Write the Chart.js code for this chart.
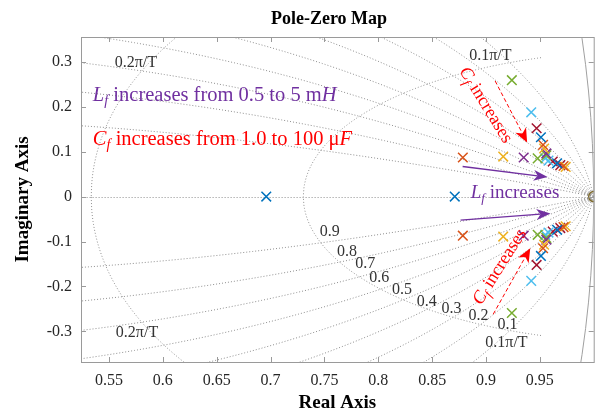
<!DOCTYPE html>
<html>
<head>
<meta charset="utf-8">
<script src="https://cdn.jsdelivr.net/npm/chart.js@4.4.1/dist/chart.umd.min.js"></script>
<style>
  html, body { margin: 0; padding: 0; background: #fff; overflow: hidden; width: 597px; height: 415px; }
  canvas { display: block; }
</style>
</head>
<body>
<canvas id="pzmap" width="602" height="415"></canvas>
<script>
// ----------------------
// Axis ticks
// ----------------------
const xTicks = [0.55, 0.6, 0.65, 0.7, 0.75, 0.8, 0.85, 0.9, 0.95];
const xTickLabels = ["0.55", "0.6", "0.65", "0.7", "0.75", "0.8", "0.85", "0.9", "0.95"];
const yTicks = [-0.3, -0.2, -0.1, 0, 0.1, 0.2, 0.3];
const yTickLabels = ["-0.3", "-0.2", "-0.1", "0", "0.1", "0.2", "0.3"];

// ----------------------
// Poles (real part, imaginary part >= 0; conjugates are mirrored)
// ----------------------
const bluePolesRe = [0.696, 0.871, 0.951, 0.966];
const bluePolesIm = [0, 0, 0.132, 0.074];
const orangePolesRe = [0.8785, 0.953, 0.972];
const orangePolesIm = [0.087, 0.115, 0.068];
const yellowPolesRe = [0.916, 0.954, 0.974];
const yellowPolesIm = [0.089, 0.107, 0.066];
const purplePolesRe = [0.935, 0.956];
const purplePolesIm = [0.087, 0.096];
const greenPolesRe = [0.924, 0.948, 0.956];
const greenPolesIm = [0.259, 0.085, 0.092];
const lightbluePolesRe = [0.942, 0.955, 0.958];
const lightbluePolesIm = [0.1875, 0.085, 0.080];
const darkredPolesRe = [0.947, 0.962, 0.969];
const darkredPolesIm = [0.152, 0.078, 0.070];

// zero at z = 1
const zeroRe = [1.0];
const zeroIm = [0];

// ----------------------
// z-plane grid
// ----------------------
const zetaLines = [0.1, 0.2, 0.3, 0.4, 0.5, 0.6, 0.7, 0.8, 0.9];
const wnLines = [0.1, 0.2, 0.3, 0.4, 0.5, 0.6, 0.7, 0.8, 0.9, 1.0]; // x pi/T

const zetaLabels = ["0.9", "0.8", "0.7", "0.6", "0.5", "0.4", "0.3", "0.2", "0.1"];
const zetaLabelX = [0.755, 0.771, 0.788, 0.801, 0.822, 0.845, 0.868, 0.893, 0.920];
const zetaLabelY = [-0.078, -0.123, -0.149, -0.180, -0.207, -0.234, -0.249, -0.266, -0.286];

const wnLabels = ["0.1\u03c0/T", "0.1\u03c0/T", "0.2\u03c0/T", "0.2\u03c0/T"];
const wnLabelX = [0.904, 0.919, 0.575, 0.576];
const wnLabelY = [0.314, -0.325, 0.297, -0.304];

// ----------------------
// Annotations (data coordinates)
// ----------------------
const PURPLE = "#7030A0";
const RED = "#FF0000";

const lfNote = [{ t: "L", i: true }, { t: "f", i: true, sub: true }, { t: " increases from 0.5 to 5 m" }, { t: "H", i: true }];
const cfNote = [{ t: "C", i: true }, { t: "f", i: true, sub: true }, { t: " increases from 1.0 to 100 \u03bc" }, { t: "F", i: true }];
const lfShort = [{ t: "L", i: true }, { t: "f", i: true, sub: true }, { t: " increases" }];
const cfShort = [{ t: "C", i: true }, { t: "f", i: true, sub: true }, { t: " increases" }];

const lfNoteAt = [0.535, 0.2134];
const cfNoteAt = [0.535, 0.1158];
const lfShortAt = [0.8858, -0.0035];
const cfShortUpAt = [0.9007, 0.2049, 58.4];
const cfShortDownAt = [0.9119, -0.1548, -57.8];

// arrows: [x0, y0, x1, y1]
const cfArrowUp = [0.9085, 0.2572, 0.9382, 0.1203];
const cfArrowDown = [0.9067, -0.2617, 0.9411, -0.1147];
const lfArrowUp = [0.8783, 0.0668, 0.9572, 0.0434];
const lfArrowDown = [0.8764, -0.0523, 0.9599, -0.0374];

const FONT = '"Liberation Serif", "Times New Roman", serif';

// ----------------------
// Datasets
// ----------------------
const poleSets = [
  { re: bluePolesRe, im: bluePolesIm, color: "#0072BD" },
  { re: orangePolesRe, im: orangePolesIm, color: "#D95319" },
  { re: yellowPolesRe, im: yellowPolesIm, color: "#EDB120" },
  { re: purplePolesRe, im: purplePolesIm, color: "#7E2F8E" },
  { re: greenPolesRe, im: greenPolesIm, color: "#77AC30" },
  { re: lightbluePolesRe, im: lightbluePolesIm, color: "#4DBEEE" },
  { re: darkredPolesRe, im: darkredPolesIm, color: "#A2142F" }
];

function conjugates(re, im) {
  const pts = [];
  re.forEach((r, i) => {
    pts.push({ x: r, y: im[i] });
    if (im[i] !== 0) pts.push({ x: r, y: -im[i] });
  });
  return pts;
}

const datasets = poleSets.map(s => ({
  data: conjugates(s.re, s.im),
  showLine: false,
  pointStyle: "crossRot",
  pointRadius: 6.8,
  pointBorderWidth: 1.5,
  borderColor: s.color,
  backgroundColor: s.color
}));
datasets.push({
  data: conjugates(zeroRe, zeroIm),
  showLine: false,
  pointStyle: "circle",
  pointRadius: 5,
  pointBorderWidth: 1.5,
  borderColor: "#7d6a2e",
  backgroundColor: "rgba(0,0,0,0)"
});

// ----------------------
// Helpers
// ----------------------
function richWidth(ctx, parts, size) {
  let w = 0;
  parts.forEach(p => {
    ctx.font = (p.i ? "italic " : "") + (p.sub ? size * 0.7 : size) + "px " + FONT;
    w += ctx.measureText(p.t).width;
  });
  return w;
}

function drawRich(ctx, parts, x, y, size, color) {
  ctx.fillStyle = color;
  ctx.textAlign = "left";
  ctx.textBaseline = "alphabetic";
  parts.forEach(p => {
    ctx.font = (p.i ? "italic " : "") + (p.sub ? size * 0.7 : size) + "px " + FONT;
    ctx.fillText(p.t, x, p.sub ? y + size * 0.22 : y);
    x += ctx.measureText(p.t).width;
  });
}

function drawArrow(ctx, x0, y0, x1, y1, color, dashed, headLen, headW) {
  const ang = Math.atan2(y1 - y0, x1 - x0);
  const c = Math.cos(ang), s = Math.sin(ang);
  const bx = x1 - headLen * c, by = y1 - headLen * s;
  const nx = x1 - headLen * 0.72 * c, ny = y1 - headLen * 0.72 * s;
  ctx.strokeStyle = color;
  ctx.fillStyle = color;
  ctx.lineWidth = dashed ? 1 : 1.4;
  ctx.setLineDash(dashed ? [4, 2.5] : []);
  ctx.beginPath();
  ctx.moveTo(x0, y0);
  ctx.lineTo(nx, ny);
  ctx.stroke();
  ctx.setLineDash([]);
  ctx.beginPath();
  ctx.moveTo(x1, y1);
  ctx.lineTo(bx - s * headW / 2, by + c * headW / 2);
  ctx.lineTo(nx, ny);
  ctx.lineTo(bx + s * headW / 2, by - c * headW / 2);
  ctx.closePath();
  ctx.fill();
}

// ----------------------
// Plugins
// ----------------------
const zgridPlugin = {
  id: "zgrid",
  beforeDatasetsDraw(chart) {
    const { ctx, chartArea: a, scales: { x, y } } = chart;
    const px = v => x.getPixelForValue(v);
    const py = v => y.getPixelForValue(v);
    ctx.save();
    ctx.beginPath();
    ctx.rect(a.left, a.top, a.right - a.left, a.bottom - a.top);
    ctx.clip();

    ctx.strokeStyle = "#8f8f8f";
    ctx.lineWidth = 1;
    ctx.setLineDash([1, 2]);

    // constant damping lines
    zetaLines.forEach(z => {
      [1, -1].forEach(sg => {
        ctx.beginPath();
        const n = 800;
        for (let i = 0; i <= n; i++) {
          const th = Math.PI * i / n;
          const r = Math.exp(-z * th / Math.sqrt(1 - z * z));
          const X = px(r * Math.cos(th)), Y = py(sg * r * Math.sin(th));
          if (i === 0) ctx.moveTo(X, Y); else ctx.lineTo(X, Y);
        }
        ctx.stroke();
      });
    });
    // zeta = 1 (real axis)
    ctx.beginPath();
    ctx.moveTo(px(0), Math.round(py(0)) + 0.5);
    ctx.lineTo(px(1), Math.round(py(0)) + 0.5);
    ctx.stroke();

    // constant natural frequency curves
    wnLines.forEach(w => {
      const wn = w * Math.PI;
      [1, -1].forEach(sg => {
        ctx.beginPath();
        const n = 300;
        for (let i = 0; i <= n; i++) {
          const z = i / n;
          const r = Math.exp(-z * wn);
          const th = wn * Math.sqrt(1 - z * z);
          const X = px(r * Math.cos(th)), Y = py(sg * r * Math.sin(th));
          if (i === 0) ctx.moveTo(X, Y); else ctx.lineTo(X, Y);
        }
        ctx.stroke();
      });
    });

    // unit circle
    ctx.setLineDash([]);
    ctx.strokeStyle = "#a0a0a0";
    ctx.beginPath();
    ctx.arc(px(0), py(0), px(1) - px(0), 0, Math.PI * 2);
    ctx.stroke();

    // grid labels
    ctx.fillStyle = "#333";
    ctx.font = "16px " + FONT;
    ctx.textAlign = "center";
    ctx.textBaseline = "middle";
    zetaLabels.forEach((t, i) => ctx.fillText(t, px(zetaLabelX[i]), py(zetaLabelY[i])));
    wnLabels.forEach((t, i) => ctx.fillText(t, px(wnLabelX[i]), py(wnLabelY[i])));
    ctx.restore();
  },

  afterDatasetsDraw(chart) {
    const { ctx, scales: { x, y } } = chart;
    const px = v => x.getPixelForValue(v);
    const py = v => y.getPixelForValue(v);
    ctx.save();

    drawRich(ctx, lfNote, px(lfNoteAt[0]), py(lfNoteAt[1]), 20.5, PURPLE);
    drawRich(ctx, cfNote, px(cfNoteAt[0]), py(cfNoteAt[1]), 20.5, RED);
    drawRich(ctx, lfShort, px(lfShortAt[0]), py(lfShortAt[1]), 19, PURPLE);

    [cfShortUpAt, cfShortDownAt].forEach(p => {
      ctx.save();
      ctx.translate(px(p[0]), py(p[1]));
      ctx.rotate(p[2] * Math.PI / 180);
      const w = richWidth(ctx, cfShort, 18);
      drawRich(ctx, cfShort, -w / 2, 6, 18, RED);
      ctx.restore();
    });

    [cfArrowUp, cfArrowDown].forEach(a =>
      drawArrow(ctx, px(a[0]), py(a[1]), px(a[2]), py(a[3]), RED, true, 14, 12));
    [lfArrowUp, lfArrowDown].forEach(a =>
      drawArrow(ctx, px(a[0]), py(a[1]), px(a[2]), py(a[3]), PURPLE, false, 14, 11));
    ctx.restore();
  },

  afterDraw(chart) {
    const { ctx, chartArea: a, scales: { x, y } } = chart;
    ctx.save();
    ctx.strokeStyle = "#9a9a9a";
    ctx.lineWidth = 1;
    ctx.strokeRect(a.left + 0.5, a.top + 0.5, a.right - a.left, a.bottom - a.top);
    ctx.beginPath();
    xTicks.forEach(v => {
      const X = Math.round(x.getPixelForValue(v)) + 0.5;
      ctx.moveTo(X, a.bottom); ctx.lineTo(X, a.bottom - 5);
      ctx.moveTo(X, a.top); ctx.lineTo(X, a.top + 5);
    });
    yTicks.forEach(v => {
      const Y = Math.round(y.getPixelForValue(v)) + 0.5;
      ctx.moveTo(a.left, Y); ctx.lineTo(a.left + 5, Y);
      ctx.moveTo(a.right, Y); ctx.lineTo(a.right - 5, Y);
    });
    ctx.stroke();

    // title
    ctx.fillStyle = "#000";
    ctx.font = "bold 18px " + FONT;
    ctx.textAlign = "center";
    ctx.textBaseline = "alphabetic";
    ctx.fillText("Pole-Zero Map", 329, 24);
    ctx.restore();
  }
};

// ----------------------
// Chart
// ----------------------
new Chart(document.getElementById("pzmap"), {
  type: "scatter",
  data: { datasets },
  plugins: [zgridPlugin],
  options: {
    responsive: false,
    animation: false,
    events: [],
    devicePixelRatio: 1,
    layout: { padding: { top: 37, right: 2, left: 0, bottom: 0 } },
    plugins: { legend: { display: false }, tooltip: { enabled: false }, title: { display: false } },
    scales: {
      x: {
        type: "linear",
        min: 0.524,
        max: 1.0,
        grid: { display: false, drawTicks: false },
        border: { display: false },
        afterBuildTicks: s => { s.ticks = xTicks.map(v => ({ value: v })); },
        afterFit: s => { s.height = 53; },
        ticks: {
          padding: 9,
          color: "#262626",
          font: { family: FONT, size: 16 },
          maxRotation: 0,
          callback: (v, i) => xTickLabels[i]
        },
        title: {
          display: true,
          text: "Real Axis",
          color: "#000",
          font: { family: FONT, size: 19, weight: "bold" },
          padding: { top: 0, bottom: 1 }
        }
      },
      y: {
        type: "linear",
        min: -0.368,
        max: 0.355,
        grid: { display: false, drawTicks: false },
        border: { display: false },
        afterBuildTicks: s => { s.ticks = yTicks.map(v => ({ value: v })); },
        afterFit: s => { s.width = 81; },
        ticks: {
          padding: 9,
          color: "#262626",
          font: { family: FONT, size: 16 },
          callback: (v, i) => yTickLabels[i]
        },
        title: {
          display: true,
          text: "Imaginary Axis",
          color: "#000",
          font: { family: FONT, size: 19, weight: "bold" },
          padding: { top: 12, bottom: 0 }
        }
      }
    }
  }
});
</script>
</body>
</html>
